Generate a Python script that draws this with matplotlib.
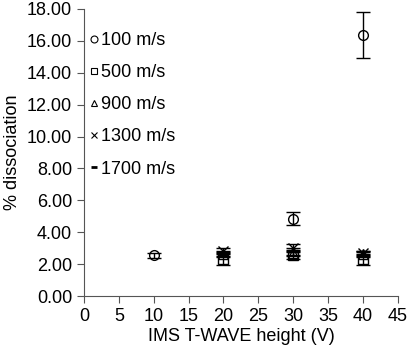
import matplotlib
matplotlib.use('Agg')
import matplotlib.pyplot as plt
from matplotlib.lines import Line2D

plt.rcParams['font.family'] = ['Liberation Sans', 'DejaVu Sans']

# T-wave height (V) and % dissociation for each wave velocity
x_100 = [10, 30, 40]
y_100 = [2.55, 4.85, 16.35]
e_100 = [0.15, 0.40, 1.45]

x_500 = [20, 30, 40]
y_500 = [2.30, 2.55, 2.30]
e_500 = [0.35, 0.25, 0.35]

x_900 = [20, 30, 40]
y_900 = [2.65, 2.70, 2.65]
e_900 = [0.15, 0.20, 0.15]

x_1300 = [20, 30, 40]
y_1300 = [2.85, 3.00, 2.70]
e_1300 = [0.15, 0.25, 0.15]

x_1700 = [20, 30, 40]
y_1700 = [2.60, 2.80, 2.60]
e_1700 = [0.15, 0.20, 0.15]

series = [
    ('100 m/s', x_100, y_100, e_100, 'o'),
    ('500 m/s', x_500, y_500, e_500, 's'),
    ('900 m/s', x_900, y_900, e_900, '^'),
    ('1300 m/s', x_1300, y_1300, e_1300, 'x'),
    ('1700 m/s', x_1700, y_1700, e_1700, '_'),
]

fig = plt.figure(figsize=(4.08, 3.45), dpi=100)
ax = fig.add_axes([0.206, 0.142, 0.769, 0.832])

handles = []
for label, xs, ys, es, m in series:
    ax.errorbar(xs, ys, yerr=es, fmt=m, color='black', mfc='none', mec='black',
                ms=7, mew=1.0, ecolor='black', elinewidth=1.0, capsize=5,
                capthick=1.0)
    # legend shows only a small marker, no error bar
    mew = 2.0 if m == '_' else 0.8
    handles.append(Line2D([], [], ls='none', marker=m, color='black',
                          mfc='none', mec='black', ms=5, mew=mew, label=label))

ax.set_xlim(0, 45)
ax.set_ylim(0, 18)
ax.set_xticks(range(0, 46, 5))
ax.set_yticks(range(0, 19, 2))
ax.set_yticklabels([f'{v:.2f}' for v in range(0, 19, 2)])
ax.spines['top'].set_visible(False)
ax.spines['right'].set_visible(False)
ax.spines['left'].set_color('#555555')
ax.spines['bottom'].set_color('#555555')
ax.tick_params(direction='out', length=5, labelsize=13, color='#555555')
ax.set_xlabel('IMS T-WAVE height (V)', fontsize=13, labelpad=2)
ax.set_ylabel('% dissociation', fontsize=13, labelpad=4)

ax.legend(handles=handles, loc='upper left', frameon=False, fontsize=13,
          handlelength=0.5, handletextpad=0.1, labelspacing=0.84,
          borderaxespad=0.0, bbox_to_anchor=(-0.005, 0.945))

fig.savefig('out.png', dpi=100)
